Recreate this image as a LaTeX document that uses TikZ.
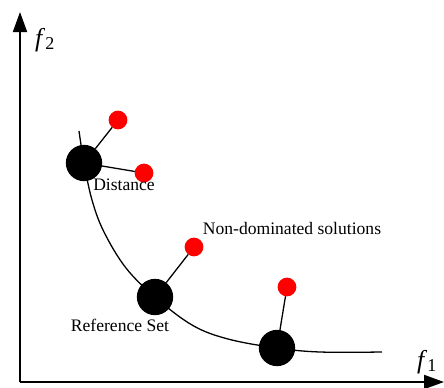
\documentclass[tikz,border=0pt]{standalone}
\usepackage{fontspec}
\setmainfont{Liberation Serif}
\usepackage{tikz}
\usetikzlibrary{arrows.meta,positioning,calc}

\begin{document}
\begin{tikzpicture}[x=0.03cm, y=-0.03cm,
    refpt/.style={circle, fill=black, inner sep=0pt, outer sep=0pt, minimum size=31},
    solpt/.style={circle, fill=red, inner sep=0pt, outer sep=0pt, minimum size=16},
    axis/.style={line width=1.6pt, -{Triangle[length=0.6cm, width=0.42cm]}},
    link/.style={line width=1.1pt},
    lbl/.style={font=\fontsize{15}{18}\selectfont}]
  \useasboundingbox (0,0) rectangle (444,387);

  % axes
  \coordinate (origin) at (20,382);
  \coordinate (xend) at (444,382);
  \coordinate (yend) at (20,12);
  \draw[axis] (origin) -- (xend);
  \draw[axis] (origin) -- (yend);
  \node[font=\fontsize{22}{24}\selectfont] (f1) at (427,362) {\textit{f}\textsubscript{1}};
  \node[font=\fontsize{22}{24}\selectfont] (f2) at (45,40) {\textit{f}\textsubscript{2}};

  % reference set
  \node[refpt] (ref1) at (84,163) {};
  \node[refpt] (ref2) at (155,297) {};
  \node[refpt] (ref3) at (277,348) {};
  \coordinate (front0) at (79,131);
  \coordinate (front4) at (382,352);
  \draw[link] plot[smooth, tension=0.6] coordinates {(front0) (ref1.center) (92,200) (104,232) (126,268) (ref2.center) (192,325) (228,339) (ref3.center) (320,352) (front4)};

  % non-dominated solutions
  \node[solpt] (sol1) at (118,120) {};
  \node[solpt] (sol2) at (144,173) {};
  \node[solpt] (sol3) at (194,247) {};
  \node[solpt] (sol4) at (287,287) {};
  \draw[link] (ref1) -- (sol1);
  \draw[link] (ref1) -- (sol2);
  \draw[link] (ref2) -- (sol3);
  \draw[link] (ref3) -- (sol4);

  \node[lbl] (dist) at (124,185) {Distance};
  \node[lbl] (nds) at (292,228) {Non-dominated solutions};
  \node[lbl] (refset) at (120,325) {Reference Set};
\end{tikzpicture}
\end{document}
